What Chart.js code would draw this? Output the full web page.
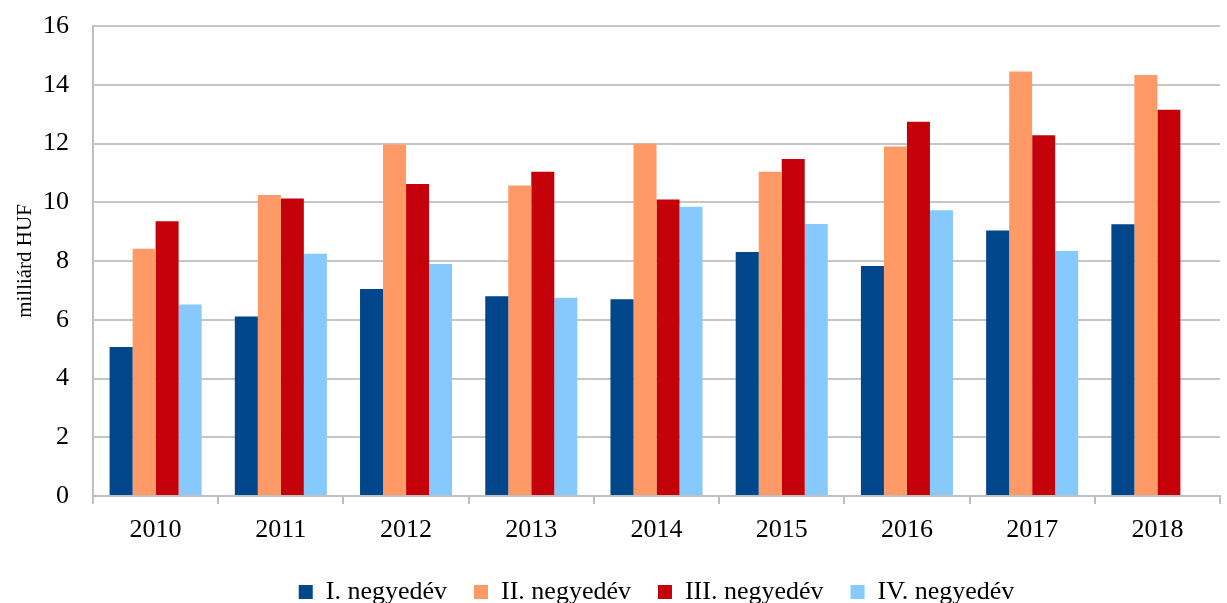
<!DOCTYPE html>
<html>
<head>
<meta charset="utf-8">
<script src="https://cdn.jsdelivr.net/npm/chart.js@4/dist/chart.umd.min.js"></script>
<style>
  html, body { margin: 0; padding: 0; background: #fff; }
  #wrap { width: 1227px; height: 603px; position: relative; }
</style>
</head>
<body>
<div id="wrap"><canvas id="chart"></canvas></div>
<script>
const years = ['2010', '2011', '2012', '2013', '2014', '2015', '2016', '2017', '2018'];
const q1 = [5.07, 6.11, 7.05, 6.80, 6.70, 8.31, 7.83, 9.04, 9.25];
const q2 = [8.42, 10.25, 11.97, 10.57, 12.00, 11.04, 11.90, 14.45, 14.33];
const q3 = [9.35, 10.13, 10.62, 11.04, 10.09, 11.47, 12.74, 12.28, 13.15];
const q4 = [6.52, 8.25, 7.90, 6.75, 9.85, 9.26, 9.73, 8.34, null];
const seriesNames = ['I. negyedév', 'II. negyedév', 'III. negyedév', 'IV. negyedév'];
const seriesColors = ['#00468B', '#FF9966', '#C4000B', '#85C9FF'];

const serif = "'Liberation Serif', 'Times New Roman', serif";

const datasets = [q1, q2, q3, q4].map((vals, i) => ({
    label: seriesNames[i],
    data: vals,
    backgroundColor: seriesColors[i],
    borderWidth: 0,
    categoryPercentage: 0.735,
    barPercentage: 1.0
}));

new Chart(document.getElementById('chart'), {
    type: 'bar',
    data: { labels: years, datasets },
    options: {
        responsive: true,
        maintainAspectRatio: false,
        animation: false,
        layout: { padding: { top: 26, right: 7, left: 13, bottom: -12 } },
        plugins: {
            tooltip: { enabled: false },
            legend: {
                position: 'bottom',
                fullSize: false,
                labels: {
                    boxWidth: 14,
                    boxHeight: 14,
                    padding: 27,
                    color: '#000',
                    font: { family: serif, size: 26 }
                }
            }
        },
        scales: {
            x: {
                offset: true,
                afterFit: s => { s.height = 56; s.paddingLeft = 0; s.paddingRight = 0; },
                grid: {
                    offset: true,
                    drawOnChartArea: false,
                    drawTicks: true,
                    tickLength: 8,
                    color: '#bfbfbf',
                    lineWidth: 2
                },
                border: { color: '#bfbfbf', width: 2 },
                ticks: {
                    color: '#000',
                    padding: 11,
                    font: { family: serif, size: 26 }
                }
            },
            y: {
                min: 0,
                max: 16,
                afterFit: s => { s.width = 80; s.paddingTop = 0; s.paddingBottom = 0; },
                ticks: {
                    stepSize: 2,
                    color: '#000',
                    padding: 24,
                    font: { family: serif, size: 26 }
                },
                grid: {
                    color: '#c6c6c6',
                    lineWidth: 2,
                    drawTicks: false
                },
                border: { color: '#bfbfbf', width: 2 },
                title: {
                    display: true,
                    text: 'milliárd HUF',
                    color: '#000',
                    padding: { top: 0, bottom: 4 },
                    font: { family: serif, size: 21 }
                }
            }
        }
    }
});
</script>
</body>
</html>
